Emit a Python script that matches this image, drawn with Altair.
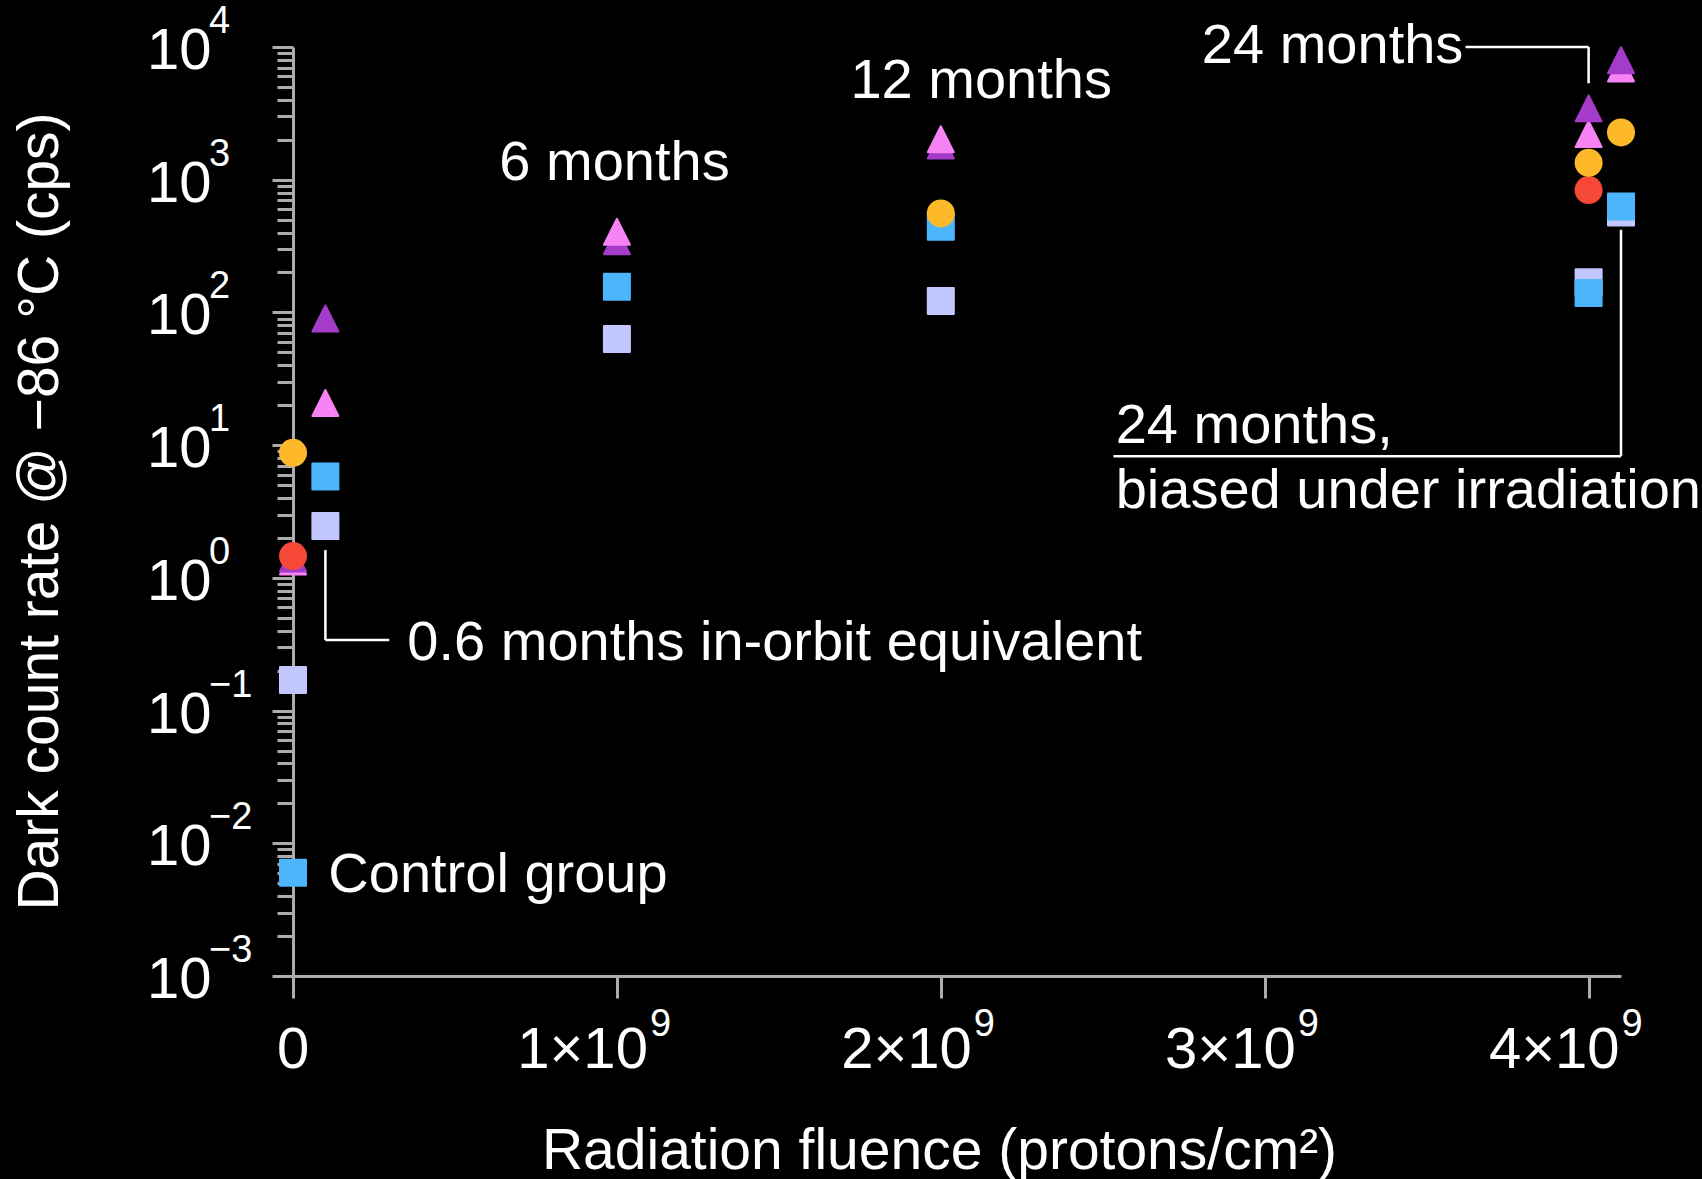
import altair as alt
import pandas as pd

FONT = "Liberation Sans"
GREY = "#acacac"
WHITE = "#ffffff"

# ---- measured dark count rates (cps) vs. proton fluence (protons/cm^2) ----
lavender_x = [0, 1e8, 1e9, 2e9, 4e9, 4.1e9]
lavender_y = [0.17, 2.46, 63, 122, 169, 567]

blue_x = [0, 1e8, 1e9, 2e9, 4e9, 4.1e9]
blue_y = [0.006, 5.8, 156, 442, 140, 629]

purple_x = [0, 1e8, 1e9, 2e9, 4e9, 4.1e9]
purple_y = [1.4, 90, 344, 1810, 3450, 7960]

pink_x = [0, 1e8, 1e9, 2e9, 4e9, 4.1e9]
pink_y = [1.33, 20.8, 405, 2020, 2210, 6900]

orange_x = [0, 2e9, 4e9, 4.1e9]
orange_y = [8.75, 557, 1340, 2270]

red_x = [0, 4e9]
red_y = [1.46, 835]

COL_LAVENDER = "#c2c8ff"
COL_BLUE = "#4cb5fb"
COL_PURPLE = "#a43cc9"
COL_PINK = "#f682f3"
COL_ORANGE = "#fdb92a"
COL_RED = "#f64836"

# ---- axis ticks and labels ----
x_ticks = [0, 1e9, 2e9, 3e9, 4e9]
x_tick_base = ["1×10", "2×10", "3×10", "4×10"]
x_tick_exp = ["9", "9", "9", "9"]

y_major = [1e-3, 1e-2, 1e-1, 1e0, 1e1, 1e2, 1e3, 1e4]
y_exp = ["−3", "−2", "−1", "0", "1", "2", "3", "4"]
y_minor = [m * 10.0 ** k for k in range(-3, 4) for m in range(2, 10)]

# ---- annotations ----
note_text = ["6 months", "12 months", "24 months", "0.6 months in-orbit equivalent",
             "Control group", "24 months,", "biased under irradiation"]
note_x = [0.637e9, 1.721e9, 2.806e9, 0.353e9, 0.109e9, 2.54e9, 2.54e9]
note_y = [1000, 4100, 7520, 0.24, 0.00428, 10.35, 3.35]

# leader lines (x, x2, y, y2)
lead_x = [3.62e9, 4.0e9, 1e8, 1e8, 4.1e9, 2.533e9]
lead_x2 = [4.0e9, 4.0e9, 1e8, 0.297e9, 4.1e9, 4.1e9]
lead_y = [1e4, 1e4, 1.62, 0.34, 420, 8.26]
lead_y2 = [1e4, 5330, 0.34, 0.34, 8.26, 8.26]

W, H = 1328, 929

xs = alt.Scale(domain=[0, 4.1e9], nice=False, zero=False)
ys = alt.Scale(type="log", domain=[1e-3, 1e4], nice=False)

x_axis = alt.Axis(
    values=x_ticks, labels=False, grid=False, tickSize=22, tickWidth=3,
    tickColor=GREY, domainColor=GREY, domainWidth=3,
    title="Radiation fluence (protons/cm²)", titleFont=FONT, titleFontSize=57,
    titleFontWeight="normal", titleColor=WHITE, titleX=646, titleY=192,
    titleAlign="center", titleBaseline="alphabetic",
)
y_axis = alt.Axis(
    values=y_major + y_minor, labels=False, grid=False,
    tickSize={"condition": {"test": "abs(log(datum.value)/LN10 - round(log(datum.value)/LN10)) < 0.001",
                            "value": 21}, "value": 16},
    tickWidth=3, tickColor=GREY, domainColor=GREY, domainWidth=3,
    title="Dark count rate @ −86 °C (cps)", titleFont=FONT, titleFontSize=57,
    titleFontWeight="normal", titleColor=WHITE, titleAngle=270, titleX=-236, titleY=464,
    titleAlign="center", titleBaseline="alphabetic",
)

X = alt.X("x:Q", scale=xs, axis=x_axis)
Y = alt.Y("y:Q", scale=ys, axis=y_axis)


def points(xv, yv, shape, color, size, stroke=2):
    df = pd.DataFrame({"x": xv, "y": yv})
    return alt.Chart(df).mark_point(
        shape=shape, size=size, filled=True, fill=color, stroke=color,
        strokeWidth=stroke, strokeJoin="round", opacity=1,
    ).encode(x=X, y=Y)


lavender = points(lavender_x, lavender_y, "square", COL_LAVENDER, 676)
blue = points(blue_x, blue_y, "square", COL_BLUE, 676)

tri_df = pd.concat([
    pd.DataFrame({"x": purple_x, "y": purple_y, "s": "purple"}),
    pd.DataFrame({"x": pink_x, "y": pink_y, "s": "pink"}),
])
tri_scale = alt.Scale(domain=["purple", "pink"], range=[COL_PURPLE, COL_PINK])
triangles = alt.Chart(tri_df).mark_point(
    shape="M0,-1L1,1L-1,1Z", size=676, filled=True, strokeWidth=2,
    strokeJoin="round", opacity=1,
).encode(
    x=X, y=Y,
    fill=alt.Fill("s:N", scale=tri_scale, legend=None),
    stroke=alt.Stroke("s:N", scale=tri_scale, legend=None),
    order=alt.Order("y:Q", sort="ascending"),
)

red = points(red_x, red_y, "circle", COL_RED, 784, stroke=0)
orange = points(orange_x, orange_y, "circle", COL_ORANGE, 784, stroke=0)

# y tick labels: "10" with a raised exponent
ylab_df = pd.DataFrame({"y": y_major, "e": y_exp})
ylab_base = alt.Chart(ylab_df).mark_text(
    font=FONT, fontSize=58, color=WHITE, align="left", baseline="middle", dy=5,
).encode(x=alt.value(-146), y=Y, text=alt.value("10"))
ylab_exp = alt.Chart(ylab_df).mark_text(
    font=FONT, fontSize=38, color=WHITE, align="left", baseline="middle", dy=-25,
).encode(x=alt.value(-84), y=Y, text="e:N")

# x tick labels
xlab_df = pd.DataFrame({"x": x_ticks[1:], "b": x_tick_base, "e": x_tick_exp})
xlab_zero = alt.Chart(pd.DataFrame({"x": [0], "b": ["0"]})).mark_text(
    font=FONT, fontSize=58, color=WHITE, align="center", baseline="alphabetic",
).encode(x=X, y=alt.value(H + 92), text="b:N")
xlab_base = alt.Chart(xlab_df).mark_text(
    font=FONT, fontSize=58, color=WHITE, align="right", baseline="alphabetic", dx=31,
).encode(x=X, y=alt.value(H + 92), text="b:N")
xlab_exp = alt.Chart(xlab_df).mark_text(
    font=FONT, fontSize=38, color=WHITE, align="left", baseline="alphabetic", dx=33,
).encode(x=X, y=alt.value(H + 60), text="e:N")

notes = alt.Chart(pd.DataFrame({"x": note_x, "y": note_y, "t": note_text})).mark_text(
    font=FONT, fontSize=56, color=WHITE, align="left", baseline="alphabetic",
).encode(x=X, y=Y, text="t:N")

leads = alt.Chart(pd.DataFrame({"x": lead_x, "x2": lead_x2, "y": lead_y, "y2": lead_y2})).mark_rule(
    color=WHITE, strokeWidth=2.5,
).encode(x=X, x2="x2:Q", y=Y, y2="y2:Q")

chart = alt.layer(
    lavender, blue, triangles, red, orange,
    ylab_base, ylab_exp, xlab_zero, xlab_base, xlab_exp, notes, leads,
).properties(
    width=W, height=H,
    autosize=alt.AutoSizeParams(type="none"),
    padding={"left": 293, "top": 47, "right": 81, "bottom": 203},
    background="#000000",
).configure_view(stroke=None)

chart.save("out.html", embed_options={"renderer": "svg", "actions": False})
